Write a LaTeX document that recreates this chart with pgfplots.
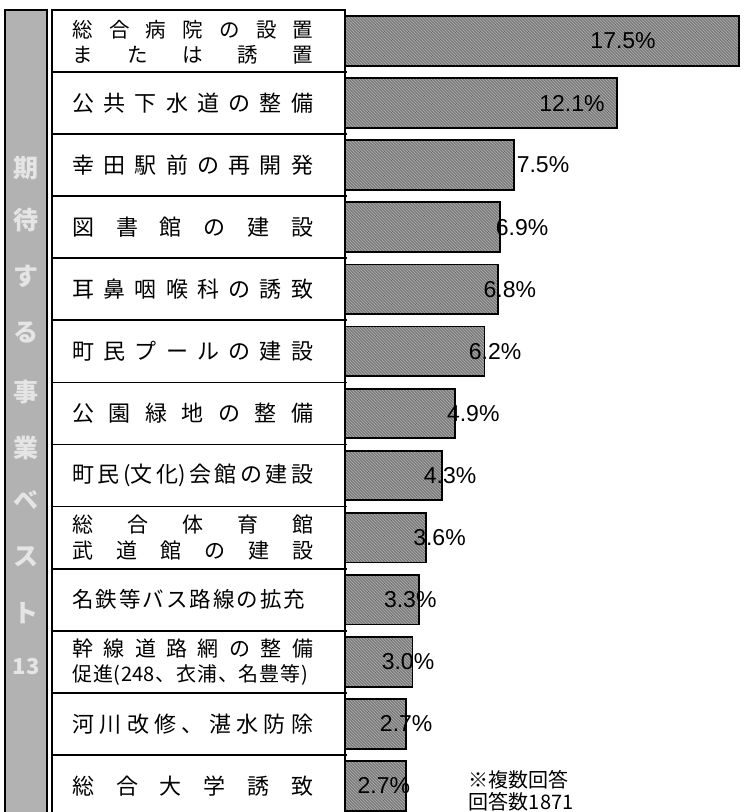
\documentclass[border=0pt]{standalone}
\usepackage{pgfplots}
\pgfplotsset{compat=1.18}
\usepackage{fontspec}
\setmainfont{Liberation Sans}
\newfontfamily\jp{Noto Sans CJK JP}
\usetikzlibrary{patterns}
\def\spreadw{241pt}
\def\spread#1{\hbox to \spreadw{\spreadA#1\relax}}
\def\spreadA#1{#1\spreadB}
\def\spreadB#1{\ifx\relax#1\else\hfill#1\expandafter\spreadB\fi}
\begin{document}
\begin{tikzpicture}
\begin{axis}[
  x=22.5pt, y=62.08pt, scale only axis,
  xmin=-15.333, xmax=17.956, ymin=-0.66, ymax=12.42,
  y dir=reverse, axis lines=none, xtick=\empty, ytick=\empty,
  clip=false,
]
\coordinate (BL) at (axis cs:-15.333,12.42);
\coordinate (TR) at (axis cs:17.956,-0.66);
% left stripe
\draw[line width=2.6pt, fill=gray!60] (axis cs:-15.11,-0.5) rectangle (axis cs:-13.24,13);
% label boxes
\draw[line width=2pt, fill=white] (axis cs:-13.02,-0.5) rectangle (axis cs:0,13);
\pgfplotsinvokeforeach{0,...,11}{
  \draw[line width=1.8pt] (axis cs:-13.02,#1+0.5) -- (axis cs:0.1,#1+0.5);
}
% bars
\addplot[xbar, bar width=0.8, draw=black, line width=1.8pt, fill=black!52,
  postaction={pattern=north west lines, pattern color=black!30}]
  coordinates {(17.5,0) (12.1,1) (7.5,2) (6.9,3) (6.8,4) (6.2,5) (4.9,6)
               (4.3,7) (3.6,8) (3.3,9) (3.0,10) (2.7,11) (2.7,12)};
% value labels
\begin{scope}[every node/.style={font=\fontsize{23}{23}\selectfont, inner sep=0pt}]
\node at (axis cs:12.36,0) {17.5\%};
\node at (axis cs:10.09,1) {12.1\%};
\node at (axis cs:8.8,2) {7.5\%};
\node at (axis cs:7.87,3) {6.9\%};
\node at (axis cs:7.33,4) {6.8\%};
\node at (axis cs:6.67,5) {6.2\%};
\node at (axis cs:5.7,6) {4.9\%};
\node at (axis cs:4.67,7) {4.3\%};
\node at (axis cs:4.2,8) {3.6\%};
\node at (axis cs:2.9,9) {3.3\%};
\node at (axis cs:2.8,10) {3.0\%};
\node at (axis cs:2.72,11) {2.7\%};
\node at (axis cs:1.73,12) {2.7\%};
\end{scope}
% category labels
\begin{scope}[every node/.style={anchor=west, inner sep=0pt}]
\node[font=\jp\fontsize{20.5}{20.5}\selectfont] at (axis cs:-12.13,-0.18) {\spread{総合病院の設置}};
\node[font=\jp\fontsize{20.5}{20.5}\selectfont] at (axis cs:-12.13,0.23) {\spread{または誘置}};
\node[font=\jp\fontsize{22}{22}\selectfont] at (axis cs:-12.13,1) {\spread{公共下水道の整備}};
\node[font=\jp\fontsize{22}{22}\selectfont] at (axis cs:-12.13,2) {\spread{幸田駅前の再開発}};
\node[font=\jp\fontsize{22}{22}\selectfont] at (axis cs:-12.13,3) {\spread{図書館の建設}};
\node[font=\jp\fontsize{22}{22}\selectfont] at (axis cs:-12.13,4) {\spread{耳鼻咽喉科の誘致}};
\node[font=\jp\fontsize{22}{22}\selectfont] at (axis cs:-12.13,5) {\spread{町民プールの建設}};
\node[font=\jp\fontsize{22}{22}\selectfont] at (axis cs:-12.13,6) {\spread{公園緑地の整備}};
\node[font=\jp\fontsize{22}{22}\selectfont] at (axis cs:-12.13,7) {\spread{町民{(文}{化)}会館の建設}};
\node[font=\jp\fontsize{21}{21}\selectfont] at (axis cs:-12.13,7.79) {\spread{総合体育館}};
\node[font=\jp\fontsize{21}{21}\selectfont] at (axis cs:-12.13,8.21) {\spread{武道館の建設}};
\node[font=\jp\fontsize{21.5}{21.5}\selectfont] at (axis cs:-12.13,9) {\def\spreadw{233pt}\spread{名鉄等バス路線の拡充}};
\node[font=\jp\fontsize{21}{21}\selectfont] at (axis cs:-12.13,9.79) {\spread{幹線道路網の整備}};
\node[font=\jp\fontsize{20}{20}\selectfont] at (axis cs:-12.13,10.22) {\def\spreadw{236pt}\spread{促進({248}、衣浦、名豊等)}};
\node[font=\jp\fontsize{22}{22}\selectfont] at (axis cs:-12.13,11) {\spread{河川改修、湛水防除}};
\node[font=\jp\fontsize{22}{22}\selectfont] at (axis cs:-12.13,12) {\spread{総合大学誘致}};
\end{scope}
% stripe vertical title
\begin{scope}[every node/.style={inner sep=0pt, text=white!90!black, font=\jp\bfseries\fontsize{25}{25}\selectfont}]
\node at (axis cs:-14.17,2.05) {期};
\node at (axis cs:-14.17,2.88) {待};
\node at (axis cs:-14.17,3.80) {す};
\node at (axis cs:-14.17,4.70) {る};
\node at (axis cs:-14.17,5.65) {事};
\node at (axis cs:-14.17,6.56) {業};
\node at (axis cs:-14.17,7.39) {ベ};
\node at (axis cs:-14.17,8.31) {ス};
\node at (axis cs:-14.17,9.21) {ト};
\node at (axis cs:-14.17,10.08) {\fontsize{22}{22}\selectfont 13};
\end{scope}
% note
\node[anchor=west, inner sep=0pt, font=\jp\fontsize{20}{20}\selectfont] at (axis cs:5.5,11.9) {※複数回答};
\node[anchor=west, inner sep=0pt, font=\jp\fontsize{20}{20}\selectfont] at (axis cs:5.5,12.25) {回答数1871};
\end{axis}
\pgfresetboundingbox
\path (BL) rectangle (TR);
\end{tikzpicture}
\end{document}
